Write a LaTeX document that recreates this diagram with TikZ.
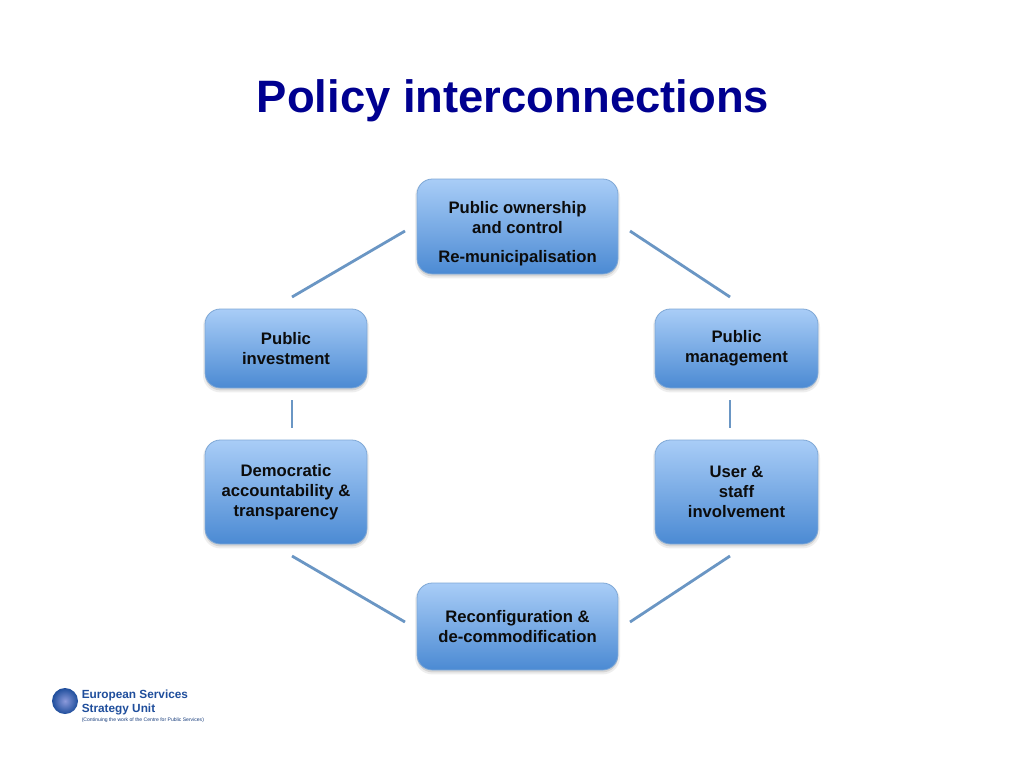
\documentclass[tikz,border=0pt]{standalone}
\usepackage{fontspec}
\setmainfont{Liberation Sans}
\usetikzlibrary{shadings,fadings,calc}
\definecolor{titleblue}{HTML}{000090}
\definecolor{boxtop}{HTML}{A9CDF7}
\definecolor{boxbot}{HTML}{4B8AD3}
\definecolor{boxline}{HTML}{7FA8D6}
\definecolor{linkblue}{HTML}{6A96C4}
\definecolor{logoblue}{HTML}{1F4E9C}
\definecolor{logoglow}{HTML}{8C9ADB}
\definecolor{boxtext}{HTML}{0C0C0C}
\tikzset{
  x=0.75pt,y=-0.75pt,
  boxnode/.style={rounded corners=11.5pt,draw=boxline,line width=0.6pt,top color=boxtop,bottom color=boxbot,
    align=center,text=boxtext,inner sep=0pt,font=\fontsize{12.5}{14.9}\selectfont\bfseries,
    preaction={draw=black!45,draw opacity=0.14,line width=3pt,transform canvas={yshift=-1.8pt},fill=black!45,fill opacity=0.25}},
  link/.style={draw=linkblue,line width=2.1pt},
}
\newcommand{\bx}[7]{% name, x0,y0,x1,y1, text
  \node[boxnode,minimum width=#4*0.75pt-#2*0.75pt,minimum height=#5*0.75pt-#3*0.75pt,anchor=center] (#1) at ({(#2+#4)/2},{(#3+#5)/2+#6}) {#7};}
\begin{document}
\begin{tikzpicture}
\useasboundingbox (0,0) rectangle (1024,768);
\fill[white] (0,0) rectangle (1024,768);
\node[font=\fontsize{34.05}{40}\selectfont\bfseries,text=titleblue,inner sep=0pt] (title) at (513,101) {Policy interconnections};

\bx{own}{417}{179}{618}{274}{0}{\rule{0pt}{20pt}Public ownership\\and control\\[7pt]Re-municipalisation}
\bx{inv}{205}{309}{367}{388}{0}{Public\\investment}
\bx{mgt}{655}{309}{818}{388}{0}{Public\\management}
\bx{dem}{205}{440}{367}{544}{0}{\rule{0pt}{9.5pt}Democratic\\accountability \&\\transparency}
\bx{usr}{655}{440}{818}{544}{0}{\rule{0pt}{8pt}User \&\\staff\\involvement}
\bx{rec}{417}{583}{618}{670}{0}{Reconfiguration \&\\de-commodification}

\coordinate (a1) at (405,231); \coordinate (a2) at (292,297);
\coordinate (b1) at (630,231); \coordinate (b2) at (730,297);
\coordinate (c1) at (292,400); \coordinate (c2) at (292,428);
\coordinate (d1) at (730,400); \coordinate (d2) at (730,428);
\coordinate (e1) at (292,556); \coordinate (e2) at (405,622);
\coordinate (f1) at (730,556); \coordinate (f2) at (630,622);
\draw[link] (a1) -- (a2);
\draw[link] (b1) -- (b2);
\draw[link] (c1) -- (c2);
\draw[link] (d1) -- (d2);
\draw[link] (e1) -- (e2);
\draw[link] (f1) -- (f2);

\shade[inner color=logoglow,outer color=logoblue] (65,701) circle (13);
\node[anchor=west,inner sep=0pt,align=left,text=logoblue,font=\fontsize{8.85}{10.5}\selectfont\bfseries] (logo) at (81.5,702.5) {European Services\\Strategy Unit};
\node[anchor=west,inner sep=0pt,text=logoblue!80!black,font=\fontsize{3.8}{5}\selectfont] (logosub) at (81.5,720.5) {(Continuing the work of the Centre for Public Services)};
\end{tikzpicture}
\end{document}
